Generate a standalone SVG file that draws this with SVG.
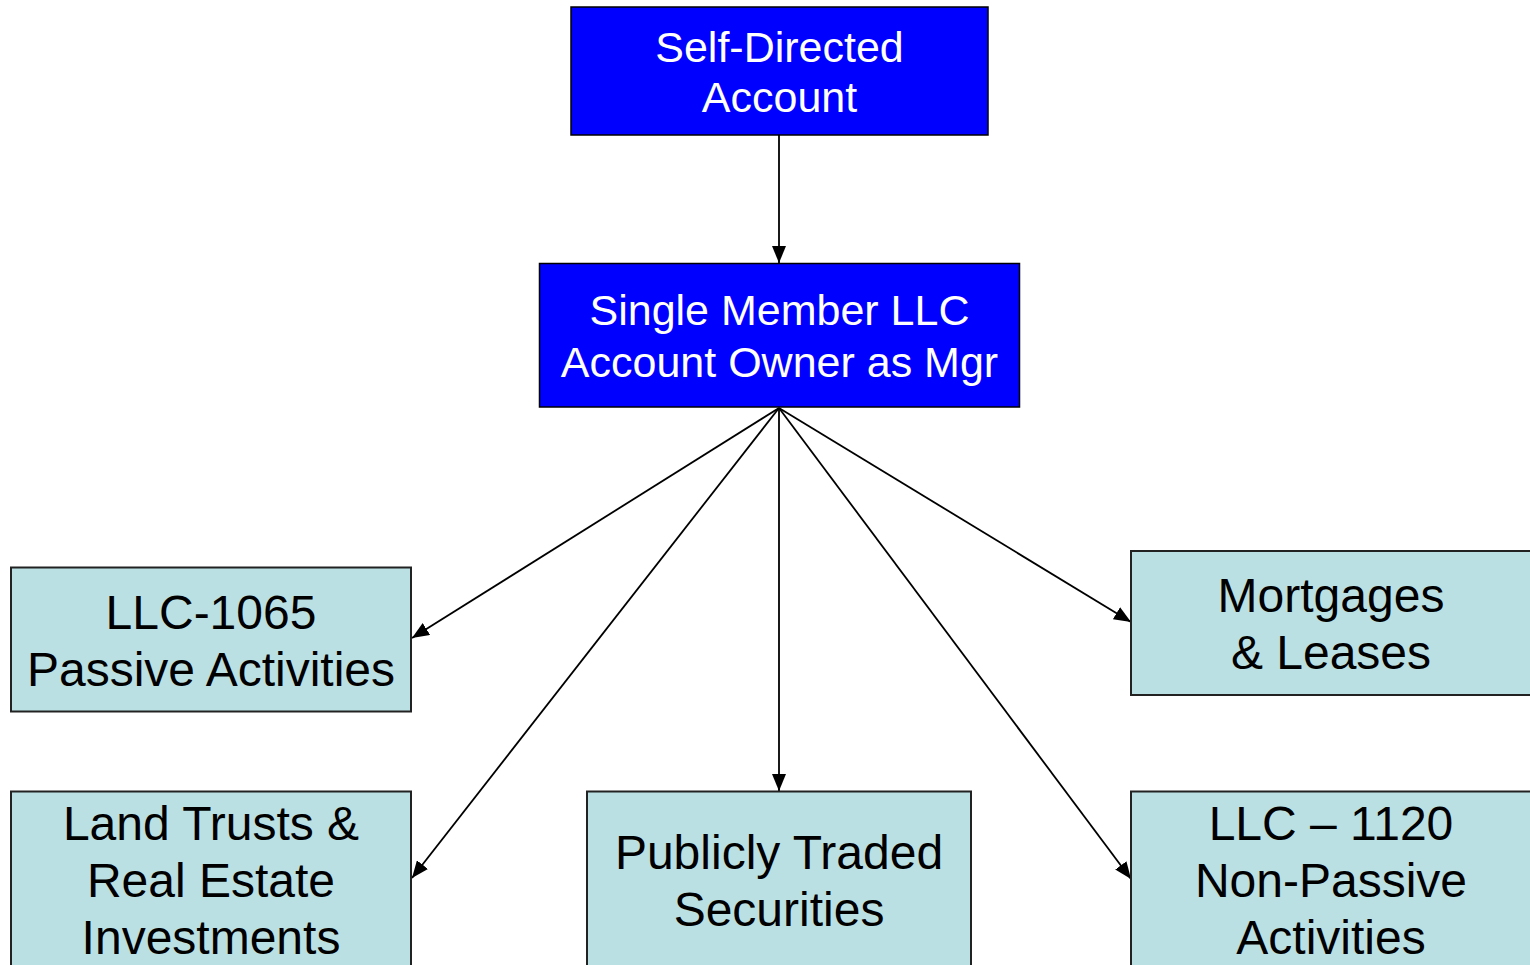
<svg xmlns="http://www.w3.org/2000/svg" width="1530" height="965" viewBox="0 0 1530 965">
<style>
.dark{fill:#0000FF;stroke:#000;stroke-width:1.5}
.light{fill:#BBE0E3;stroke:#222;stroke-width:2}
.tw{font-family:"Liberation Sans",Arial,sans-serif;font-size:43px;fill:#fff;text-anchor:middle}
.tb{font-family:"Liberation Sans",Arial,sans-serif;font-size:48px;fill:#000;text-anchor:middle}
.conn{stroke:#000;stroke-width:1.8;fill:none;marker-end:url(#ah)}
</style>
<defs>
<marker id="ah" markerUnits="userSpaceOnUse" markerWidth="18" markerHeight="14" viewBox="0 0 18 14" refX="17" refY="7" orient="auto">
<path d="M0,0 L17,7 L0,14 z" fill="#000"/>
</marker>
</defs>
<rect width="1530" height="965" fill="#fff"/>
<g id="connectors">
<line class="conn" x1="779" y1="135" x2="779" y2="263"/>
<line class="conn" x1="779" y1="408" x2="412" y2="638"/>
<line class="conn" x1="779" y1="408" x2="412" y2="878"/>
<line class="conn" x1="779" y1="408" x2="779" y2="791"/>
<line class="conn" x1="779" y1="408" x2="1131" y2="622"/>
<line class="conn" x1="779" y1="408" x2="1131" y2="879"/>
</g>
<g id="self-directed">
<rect class="dark" x="571" y="7" width="417" height="128"/>
<text class="tw" x="779.5" y="62">Self-Directed</text>
<text class="tw" x="779.5" y="112">Account</text>
</g>
<g id="llc">
<rect class="dark" x="539.5" y="263.5" width="480" height="143.5"/>
<text class="tw" x="779.5" y="325">Single Member LLC</text>
<text class="tw" x="779.5" y="377">Account Owner as Mgr</text>
</g>
<g id="llc1065">
<rect class="light" x="11" y="567.5" width="400" height="144"/>
<text class="tb" x="211" y="629">LLC-1065</text>
<text class="tb" x="211" y="686">Passive Activities</text>
</g>
<g id="landtrusts">
<rect class="light" x="11" y="791.5" width="400" height="200"/>
<text class="tb" x="211" y="840">Land Trusts &amp;</text>
<text class="tb" x="211" y="897">Real Estate</text>
<text class="tb" x="211" y="954">Investments</text>
</g>
<g id="publicly">
<rect class="light" x="587" y="791.5" width="384" height="200"/>
<text class="tb" x="779" y="869">Publicly Traded</text>
<text class="tb" x="779" y="926">Securities</text>
</g>
<g id="mortgages">
<rect class="light" x="1131" y="551" width="400" height="144"/>
<text class="tb" x="1331" y="612">Mortgages</text>
<text class="tb" x="1331" y="669">&amp; Leases</text>
</g>
<g id="llc1120">
<rect class="light" x="1131" y="791.5" width="400" height="200"/>
<text class="tb" x="1331" y="840">LLC – 1120</text>
<text class="tb" x="1331" y="897">Non-Passive</text>
<text class="tb" x="1331" y="954">Activities</text>
</g>
</svg>
